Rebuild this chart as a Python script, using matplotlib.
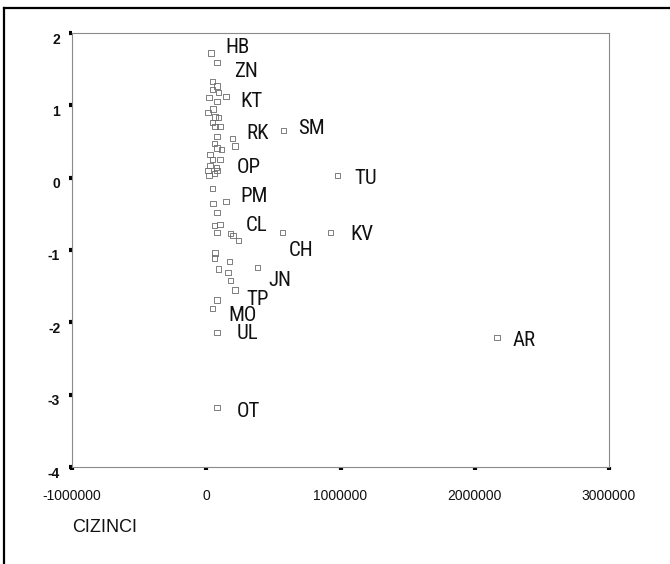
import matplotlib
matplotlib.use("Agg")
import matplotlib.pyplot as plt
from matplotlib.lines import Line2D
from matplotlib import transforms
from matplotlib import font_manager
import numpy as np

# ---- data ----
cizinci = [37000, 82000, 45000, 82000, 45000, 90000, 149000, 22000, 82000, 52000,
           15000, 67000, 90000, 45000, 67000, 104000, 82000, 194000, 216000, 60000,
           82000, 112000, 30000, 45000, 104000, 30000, 75000, 15000, 60000, 22000,
           82000, 45000, 149000, 52000, 82000, 60000, 104000, 82000, 179000, 201000,
           239000, 567000, 925000, 67000, 60000, 172000, 90000, 164000, 179000, 381000,
           216000, 82000, 45000, 82000, 575000, 978000, 2164000, 82000]
score = [1.72, 1.59, 1.33, 1.27, 1.22, 1.18, 1.12, 1.11, 1.05, 0.95,
         0.90, 0.84, 0.83, 0.76, 0.71, 0.71, 0.57, 0.54, 0.44, 0.47,
         0.41, 0.39, 0.32, 0.25, 0.25, 0.17, 0.14, 0.10, 0.06, 0.03,
         0.10, -0.15, -0.33, -0.36, -0.48, -0.66, -0.65, -0.76, -0.77, -0.80,
         -0.87, -0.76, -0.76, -1.04, -1.11, -1.16, -1.26, -1.31, -1.42, -1.24,
         -1.55, -1.69, -1.81, -2.14, 0.65, 0.03, -2.21, -3.18]

# labelled points: label -> index into the arrays
label_names = ["HB", "ZN", "KT", "RK", "SM", "OP", "TU", "PM", "CL", "CH",
               "KV", "JN", "TP", "MO", "UL", "AR", "OT"]
label_index = [0, 1, 6, 17, 54, 26, 55, 32, 38, 41,
               42, 49, 50, 52, 53, 56, 57]
# label offsets in pixels (dx right, dy down)
label_offsets = [(14, -6), (17, 9), (14, 5), (14, -5), (15, -2), (20, 0), (17, 3),
                 (14, -5), (15, -8), (6, 18), (20, 2), (11, 13), (11, 10),
                 (16, 7), (19, 1), (16, 3), (19, 4)]

xticks = [-1000000, 0, 1000000, 2000000, 3000000]
yticks = [-4, -3, -2, -1, 0, 1, 2]

# pick a condensed font for point labels if one is installed
available = {f.name for f in font_manager.fontManager.ttflist}
narrow = [n for n in ["Liberation Sans Narrow", "DejaVu Sans Condensed",
                      "Roboto Condensed", "Open Sans Condensed"] if n in available]
label_font = narrow + ["Liberation Sans", "DejaVu Sans"]

W, H, DPI = 670, 564, 100
fig = plt.figure(figsize=(W / DPI, H / DPI), dpi=DPI)
fig.patch.set_facecolor("white")
ax = fig.add_axes([72 / W, 1 - 467 / H, (609 - 72) / W, (467 - 33) / H])

ax.scatter(cizinci, score, marker="s", s=16, facecolors="none",
           edgecolors="#6a6a6a", linewidths=0.6, zorder=3)

for name, idx, (dx, dy) in zip(label_names, label_index, label_offsets):
    t = ax.annotate(name, (cizinci[idx], score[idx]), xytext=(dx, -dy),
                    textcoords="offset pixels", ha="left", va="center",
                    fontsize=15 if narrow else 13, family=label_font,
                    color="#111111")
    if not narrow:
        t.set_fontstretch("condensed")

ax.set_xlim(-1000000, 3000000)
ax.set_ylim(-4, 2)
ax.set_xticks(xticks)
ax.set_xticklabels([str(v) for v in xticks])
ax.set_yticks(yticks)
ax.set_yticklabels([str(v) for v in yticks])

for sp in ax.spines.values():
    sp.set_color("#8a8a8a")
    sp.set_linewidth(0.8)

ax.tick_params(axis="both", direction="out", length=2.5, width=3, color="black",
               labelsize=10, labelcolor="#111111")
ax.tick_params(axis="x", pad=13)
ax.tick_params(axis="y", pad=6)
for lab in ax.get_xticklabels() + ax.get_yticklabels():
    lab.set_family(["Liberation Sans", "DejaVu Sans"])
for lab in ax.get_yticklabels():
    lab.set_fontweight("bold")
    lab.set_transform(lab.get_transform() +
                      transforms.ScaledTranslation(0, -5 / DPI, fig.dpi_scale_trans))

fig.text(72 / W, 1 - 527 / H, "CIZINCI", ha="left", va="center",
         fontsize=13, family=["Liberation Sans", "DejaVu Sans"], color="#111111")

# outer frame (left and top edges)
fig.add_artist(Line2D([4 / W, 4 / W], [0, 1 - 8 / H], transform=fig.transFigure,
                      color="black", linewidth=1.6))
fig.add_artist(Line2D([4 / W, 1], [1 - 8 / H, 1 - 8 / H], transform=fig.transFigure,
                      color="black", linewidth=1.6))

fig.savefig("out.png", dpi=DPI, facecolor="white")
